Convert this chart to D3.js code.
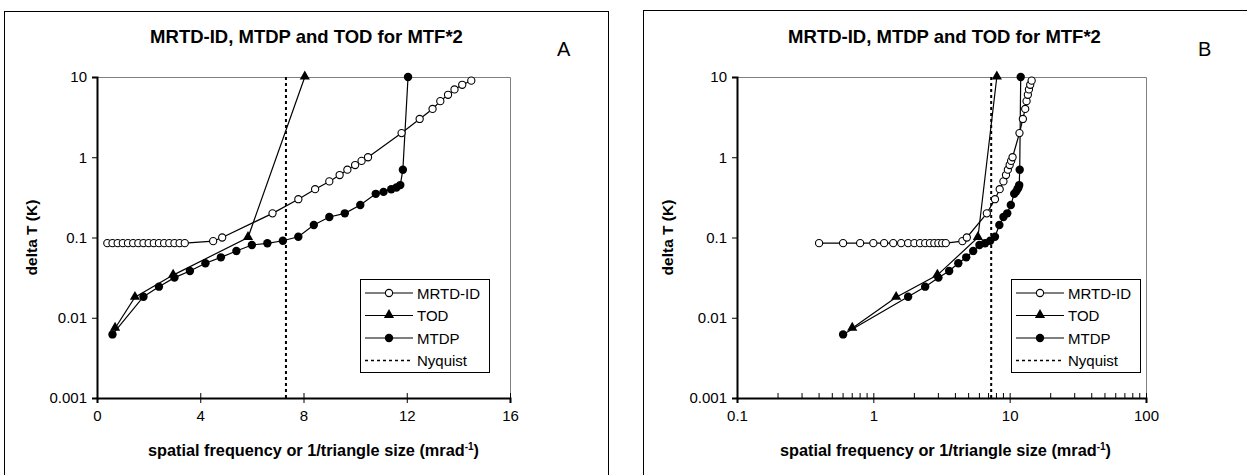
<!DOCTYPE html>
<html>
<head>
<meta charset="utf-8">
<script src="https://cdn.jsdelivr.net/npm/d3@7"></script>
<style>
  body { margin: 0; background: #fff; }
  text { font-family: "Liberation Sans", Arial, sans-serif; }
</style>
</head>
<body>
<script>
// data (x in mrad^-1, y = delta T in K)
var mrtdX = [0.4, 0.6, 0.8, 1.0, 1.2, 1.4, 1.6, 1.8, 2.0, 2.2, 2.4, 2.6, 2.8, 3.0, 3.2, 3.4,
             4.5, 4.85, 6.8, 7.8, 8.45, 9.0, 9.4, 9.7, 10.0, 10.25, 10.5,
             11.8, 12.5, 13.0, 13.3, 13.6, 13.85, 14.15, 14.5];
var mrtdY = [0.085, 0.085, 0.085, 0.085, 0.085, 0.085, 0.085, 0.085, 0.085, 0.085, 0.085, 0.085, 0.085, 0.085, 0.085, 0.085,
             0.09, 0.1, 0.2, 0.3, 0.4, 0.5, 0.6, 0.7, 0.8, 0.9, 1.0,
             2, 3, 4, 5, 6, 7, 8, 9];

var todX = [0.7, 1.47, 2.95, 5.85, 8.05];
var todY = [0.0074, 0.018, 0.034, 0.1, 10];

var mtdpX = [0.6, 1.8, 2.4, 3.0, 3.6, 4.2, 4.8, 5.4, 6.0, 6.6, 7.2, 7.8, 8.4, 9.0, 9.6,
             10.2, 10.8, 11.1, 11.4, 11.6, 11.75, 11.85, 12.05];
var mtdpY = [0.0062, 0.0183, 0.0244, 0.0316, 0.0383, 0.0477, 0.0566, 0.068, 0.0807, 0.0847, 0.091, 0.102, 0.143, 0.18, 0.2,
             0.254, 0.35, 0.37, 0.40, 0.42, 0.45, 0.7, 10];

var nyquistX = 7.32;

var yTicks = [0.001, 0.01, 0.1, 1, 10];
var xTicksA = [0, 4, 8, 12, 16];
var xTicksB = [0.1, 1, 10, 100];
var legendNames = ["MRTD-ID", "TOD", "MTDP", "Nyquist"];
var title = "MRTD-ID, MTDP and TOD for MTF*2";

var svg = d3.select("body").append("svg")
    .attr("width", 1247)
    .attr("height", 475);

function zip(xs, ys) { return xs.map(function (d, i) { return [d, ys[i]]; }); }

function drawPanel(o) {
  var g = svg.append("g");

  // outer frame
  g.append("rect")
    .attr("x", o.frame[0] + 0.5).attr("y", o.frame[1] + 0.5)
    .attr("width", o.frame[2]).attr("height", 500)
    .attr("fill", "none").attr("stroke", "#000").attr("stroke-width", 1);

  var x = o.x, y = d3.scaleLog().domain([0.001, 10]).range([398, 77]);
  var x0 = x.range()[0], x1 = x.range()[1];

  // plot area border (top/right grey)
  g.append("path")
    .attr("d", "M" + x0 + "," + 77.5 + "H" + (x1 + 0.5) + "V398")
    .attr("fill", "none").attr("stroke", "#808080").attr("stroke-width", 1);

  // minor ticks for log x
  if (o.minor) {
    g.selectAll(".minor").data(o.minor).enter().append("line")
      .attr("x1", function (d) { return x(d); }).attr("x2", function (d) { return x(d); })
      .attr("y1", 398).attr("y2", 393)
      .attr("stroke", "#000").attr("stroke-width", 1);
  }

  // x axis
  var xa = g.append("g").attr("transform", "translate(0,398)")
    .call(d3.axisBottom(x).tickValues(o.xTicks).tickSize(5).tickPadding(7)
      .tickFormat(d3.format("~g")));
  xa.select(".domain").attr("stroke", "#000").attr("stroke-width", 2);
  xa.selectAll(".tick line").attr("y1", -5).attr("y2", 5).attr("stroke-width", 1);
  xa.selectAll(".tick text").attr("font-size", 15).attr("fill", "#000")
    .attr("font-family", "Liberation Sans, Arial, sans-serif");

  // y axis
  var ya = g.append("g").attr("transform", "translate(" + x0 + ",0)")
    .call(d3.axisLeft(y).tickValues(yTicks).tickSize(5).tickPadding(5)
      .tickFormat(d3.format("~g")));
  ya.select(".domain").attr("stroke", "#000").attr("stroke-width", 2);
  ya.selectAll(".tick text").attr("font-size", 15).attr("fill", "#000")
    .attr("font-family", "Liberation Sans, Arial, sans-serif");

  var line = d3.line().x(function (d) { return x(d[0]); }).y(function (d) { return y(d[1]); });

  // Nyquist
  g.append("line")
    .attr("x1", x(nyquistX)).attr("x2", x(nyquistX))
    .attr("y1", y(0.001)).attr("y2", y(10))
    .attr("stroke", "#000").attr("stroke-width", 2).attr("stroke-dasharray", "3,3");

  var mrtd = zip(mrtdX, mrtdY), tod = zip(todX, todY), mtdp = zip(mtdpX, mtdpY);

  [mrtd, tod, mtdp].forEach(function (s) {
    g.append("path").datum(s).attr("d", line)
      .attr("fill", "none").attr("stroke", "#000").attr("stroke-width", 1.2);
  });

  g.selectAll(".mtdp").data(mtdp).enter().append("circle")
    .attr("cx", function (d) { return x(d[0]); }).attr("cy", function (d) { return y(d[1]); })
    .attr("r", 4.2).attr("fill", "#000");

  var tri = d3.symbol().type(d3.symbolTriangle).size(45);
  g.selectAll(".tod").data(tod).enter().append("path")
    .attr("transform", function (d) { return "translate(" + x(d[0]) + "," + (y(d[1]) - 0.5) + ")"; })
    .attr("d", tri).attr("fill", "#000");

  g.selectAll(".mrtd").data(mrtd).enter().append("circle")
    .attr("cx", function (d) { return x(d[0]); }).attr("cy", function (d) { return y(d[1]); })
    .attr("r", 3.6).attr("fill", "#fff").attr("stroke", "#000").attr("stroke-width", 1.1);

  // title
  g.append("text").attr("x", (x0 + x1) / 2 + 3).attr("y", 43)
    .attr("text-anchor", "middle").attr("font-size", 18.5).attr("font-weight", "bold")
    .text(title);

  // panel letter
  g.append("text").attr("x", o.letterX).attr("y", 56)
    .attr("font-size", 20).text(o.letter);

  // axis titles
  g.append("text")
    .attr("transform", "translate(" + o.yLabelX + ",237.5) rotate(-90)")
    .attr("text-anchor", "middle").attr("font-size", 15.5).attr("font-weight", "bold")
    .text("delta T (K)");

  var xl = g.append("text").attr("x", (x0 + x1) / 2 + o.xLabelShift).attr("y", 456)
    .attr("text-anchor", "middle").attr("font-size", 16.3).attr("font-weight", "bold");
  xl.append("tspan").text("spatial frequency or 1/triangle size (mrad");
  xl.append("tspan").attr("font-size", 10).attr("dy", -6).text("-1");
  xl.append("tspan").attr("dy", 6).text(")");

  // legend
  var lx = o.legend[0], ly = o.legend[1];
  var lg = g.append("g").attr("transform", "translate(" + lx + "," + ly + ")");
  lg.append("rect").attr("x", 0.5).attr("y", 0.5).attr("width", 129).attr("height", 93)
    .attr("fill", "#fff").attr("stroke", "#000").attr("stroke-width", 1);
  legendNames.forEach(function (name, i) {
    var cy = 14 + i * 22.5;
    lg.append("line").attr("x1", 5).attr("x2", 53).attr("y1", cy).attr("y2", cy)
      .attr("stroke", "#000").attr("stroke-width", i === 3 ? 1.5 : 1.2)
      .attr("stroke-dasharray", i === 3 ? "3,3" : null);
    if (i === 0) lg.append("circle").attr("cx", 29).attr("cy", cy).attr("r", 3.6)
      .attr("fill", "#fff").attr("stroke", "#000").attr("stroke-width", 1.1);
    if (i === 1) lg.append("path").attr("transform", "translate(29," + (cy - 0.5) + ")")
      .attr("d", tri).attr("fill", "#000");
    if (i === 2) lg.append("circle").attr("cx", 29).attr("cy", cy).attr("r", 4.2).attr("fill", "#000");
    lg.append("text").attr("x", 57).attr("y", cy + 5.5).attr("font-size", 15).text(name);
  });
}

drawPanel({
  frame: [4, 11, 604],
  x: d3.scaleLinear().domain([0, 16]).range([97, 510]),
  xTicks: xTicksA,
  letter: "A", letterX: 557,
  yLabelX: 37,
  xLabelShift: 10,
  legend: [360, 279]
});

var minorB = [];
[0.1, 1, 10].forEach(function (dec) {
  for (var k = 2; k <= 9; k++) minorB.push(+(dec * k).toPrecision(2));
});

drawPanel({
  frame: [643, 10, 610],
  x: d3.scaleLog().domain([0.1, 100]).range([737, 1146]),
  xTicks: xTicksB,
  minor: minorB,
  letter: "B", letterX: 1198,
  yLabelX: 673,
  xLabelShift: 4,
  legend: [1011, 279]
});
</script>
</body>
</html>
